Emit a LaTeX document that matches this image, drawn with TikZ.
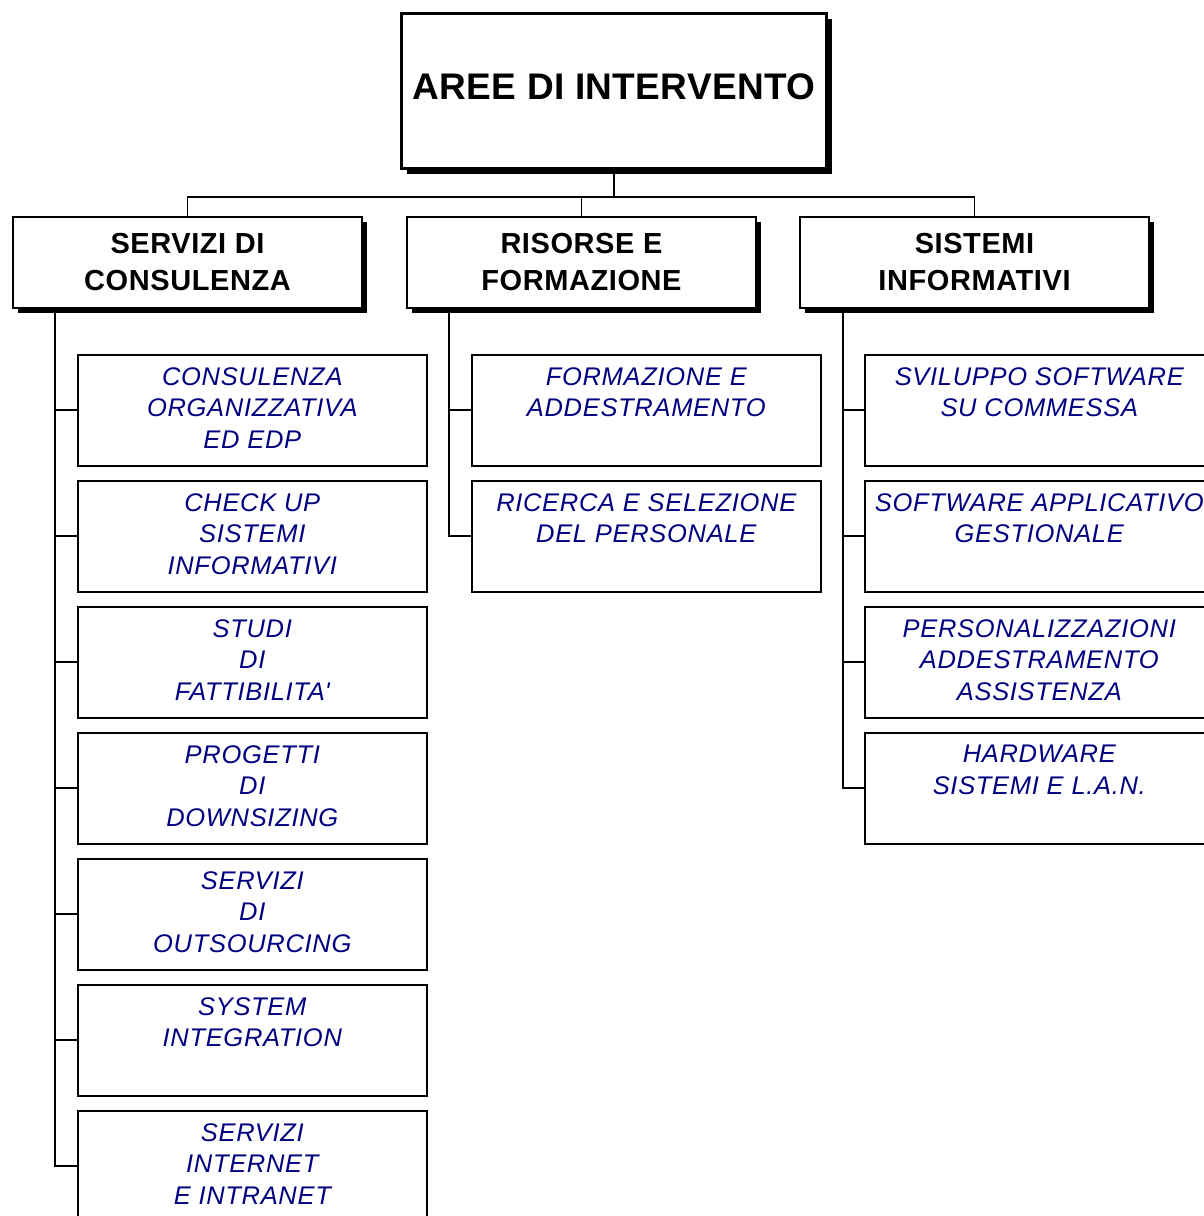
\documentclass[tikz,border=0pt]{standalone}
\usepackage{fontspec}
\setmainfont{Liberation Sans}
\newfontfamily\childfont[LetterSpace=2.7]{Liberation Sans}
\newfontfamily\headfont[LetterSpace=2]{Liberation Sans}
\newfontfamily\rootfont[LetterSpace=1]{Liberation Sans}
\usetikzlibrary{shadows}
\definecolor{navyblue}{RGB}{0,0,128}
\begin{document}
\begin{tikzpicture}[x=1pt,y=-1pt,
  conn/.style={draw, line width=1.8pt},
  blackshadow/.style={drop shadow={shadow xshift=5pt, shadow yshift=-5pt, opacity=1, fill=black}},
  topbox/.style={draw, line width=3pt, fill=white, blackshadow, minimum width=425pt, minimum height=155pt,
    inner sep=0pt, anchor=north west, font=\rootfont\bfseries\fontsize{37}{44}\selectfont, text depth=8pt},
  headbox/.style={draw, line width=2pt, fill=white, blackshadow, minimum width=349pt, minimum height=91pt,
    inner sep=0pt, anchor=north west, align=center, font=\headfont\bfseries\fontsize{29}{37}\selectfont},
  childtext/.style={text=navyblue, font=\childfont\itshape\fontsize{25.5}{31.5}\selectfont, align=center,
    anchor=north, inner sep=0pt, yshift=-13pt},
  childbox/.style={draw, line width=1.6pt, fill=white, minimum width=349pt, minimum height=111pt,
    inner sep=0pt, anchor=north west, label={[childtext]north:{#1}}}
]
\useasboundingbox (0,0) rectangle (1203,1216);

% root
\node[topbox] (top) at (400,12) {AREE DI INTERVENTO};

% headers
\node[headbox] (h1) at (12,216) {SERVIZI DI\\CONSULENZA};
\node[headbox] (h2) at (406,216) {RISORSE E\\FORMAZIONE};
\node[headbox] (h3) at (799,216) {SISTEMI\\INFORMATIVI};

% left column
\node[childbox={CONSULENZA\\ORGANIZZATIVA\\ED EDP}] (a1) at (77,354) {};
\node[childbox={CHECK UP\\SISTEMI\\INFORMATIVI}] (a2) at (77,480) {};
\node[childbox={STUDI\\DI\\FATTIBILITA\textquotesingle}] (a3) at (77,606) {};
\node[childbox={PROGETTI\\DI\\DOWNSIZING}] (a4) at (77,732) {};
\node[childbox={SERVIZI\\DI\\OUTSOURCING}] (a5) at (77,858) {};
\node[childbox={SYSTEM\\INTEGRATION}] (a6) at (77,984) {};
\node[childbox={SERVIZI\\INTERNET\\E INTRANET}] (a7) at (77,1110) {};

% middle column
\node[childbox={FORMAZIONE E\\ADDESTRAMENTO}] (b1) at (471,354) {};
\node[childbox={RICERCA E SELEZIONE\\DEL PERSONALE}] (b2) at (471,480) {};

% right column
\node[childbox={SVILUPPO SOFTWARE\\SU COMMESSA}] (c1) at (864,354) {};
\node[childbox={SOFTWARE APPLICATIVO\\GESTIONALE}] (c2) at (864,480) {};
\node[childbox={PERSONALIZZAZIONI\\ADDESTRAMENTO\\ASSISTENZA}] (c3) at (864,606) {};
\node[childbox={HARDWARE\\SISTEMI E L.A.N.}] (c4) at (864,732) {};

% root to headers
\draw[conn] (top.south) -- ++(0,27) coordinate (bus);
\draw[conn] (h1.north) |- (bus) -| (h3.north);
\draw[conn] (h2.north) -- (h2.north |- bus);

% trunks
\coordinate (t1) at (55,309);
\coordinate (t2) at (449,309);
\coordinate (t3) at (843,309);
\draw[conn] (t1) |- (a7.west);
\foreach \n in {a1,a2,a3,a4,a5,a6} \draw[conn] (\n.west) -- (\n.west -| t1);
\draw[conn] (t2) |- (b2.west);
\draw[conn] (b1.west) -- (b1.west -| t2);
\draw[conn] (t3) |- (c4.west);
\foreach \n in {c1,c2,c3} \draw[conn] (\n.west) -- (\n.west -| t3);
\end{tikzpicture}
\end{document}
